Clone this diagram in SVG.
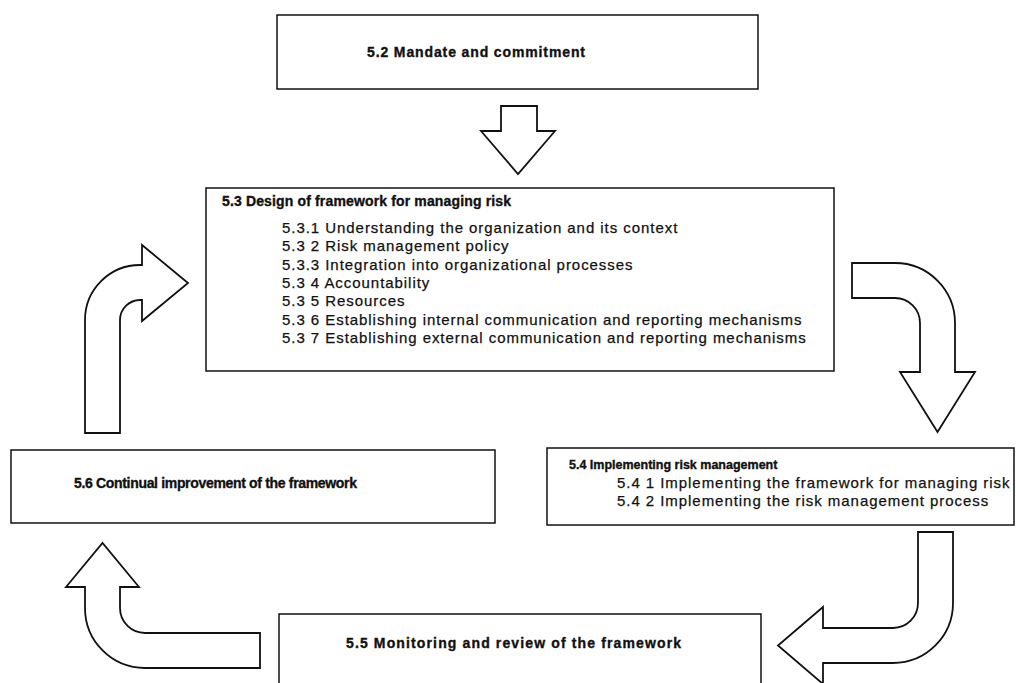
<svg xmlns="http://www.w3.org/2000/svg" width="1016" height="683" viewBox="0 0 1016 683">
  <style>
    .box { fill: #ffffff; stroke: #111111; stroke-width: 1.5; }
    .arrow { fill: #ffffff; stroke: #111111; stroke-width: 1.8; stroke-linejoin: miter; }
    .title { font-family: "Liberation Sans", Arial, sans-serif; font-weight: bold; font-size: 14px; fill: #111111; stroke: #111111; stroke-width: 0.35; }
    .small { font-size: 12.5px; }
    .item { font-family: "Liberation Sans", Arial, sans-serif; font-size: 15px; letter-spacing: 0.95px; fill: #111111; stroke: #111111; stroke-width: 0.25; }
  </style>
  <rect width="1016" height="683" fill="#ffffff"/>

  <!-- block arrows linking the stages -->
  <g id="connectors">
    <path class="arrow" d="M501,106 H537 V131 H555 L518,174 L481,131 H501 Z"/>
    <path class="arrow" d="M852,263 H895 A60,60 0 0 1 955,323 V372 H975 L937.5,432 L900,372 H920 V323 A25,25 0 0 0 895,298 H852 Z"/>
    <path class="arrow" d="M918,532 H953 V603 A60,60 0 0 1 893,663 H823 V684 L778,645.5 L823,607 V628 H893 A25,25 0 0 0 918,603 Z"/>
    <path class="arrow" d="M260,633 H145 A25,25 0 0 1 120,608 V587 H139 L102.5,543 L66,587 H85 V608 A60,60 0 0 0 145,668 H260 Z"/>
    <path class="arrow" d="M85,433 V320 A55,55 0 0 1 140,265 H142 V245 L188,283 L142,321 V300 H140 A20,20 0 0 0 120,320 V433 Z"/>
  </g>

  <g id="mandate">
    <rect class="box" x="277" y="15" width="481" height="74"/>
    <text class="title" x="367" y="57" textLength="218" lengthAdjust="spacing">5.2 Mandate and commitment</text>
  </g>

  <g id="design">
    <rect class="box" x="206" y="188" width="628" height="183"/>
    <text class="title" x="222" y="206" textLength="289" lengthAdjust="spacing">5.3 Design of framework for managing risk</text>
    <text class="item" x="282" y="233">5.3.1 Understanding the organization and its context</text>
    <text class="item" x="282" y="251.3">5.3 2 Risk management policy</text>
    <text class="item" x="282" y="269.6">5.3.3 Integration into organizational processes</text>
    <text class="item" x="282" y="287.9">5.3 4 Accountability</text>
    <text class="item" x="282" y="306.2">5.3 5 Resources</text>
    <text class="item" x="282" y="324.5">5.3 6 Establishing internal communication and reporting mechanisms</text>
    <text class="item" x="282" y="342.8">5.3 7 Establishing external communication and reporting mechanisms</text>
  </g>

  <g id="implementing">
    <rect class="box" x="547" y="448" width="467" height="77"/>
    <text class="title small" x="569" y="469">5.4 Implementing risk management</text>
    <text class="item" x="617" y="488">5.4 1 Implementing the framework for managing risk</text>
    <text class="item" x="617" y="506">5.4 2 Implementing the risk management process</text>
  </g>

  <g id="improvement">
    <rect class="box" x="11" y="450" width="484" height="73"/>
    <text class="title" x="74" y="488" textLength="283" lengthAdjust="spacing">5.6 Continual improvement of the framework</text>
  </g>

  <g id="monitoring">
    <rect class="box" x="279" y="614" width="482" height="80"/>
    <text class="title" x="346" y="648" textLength="335" lengthAdjust="spacing">5.5 Monitoring and review of the framework</text>
  </g>
</svg>
